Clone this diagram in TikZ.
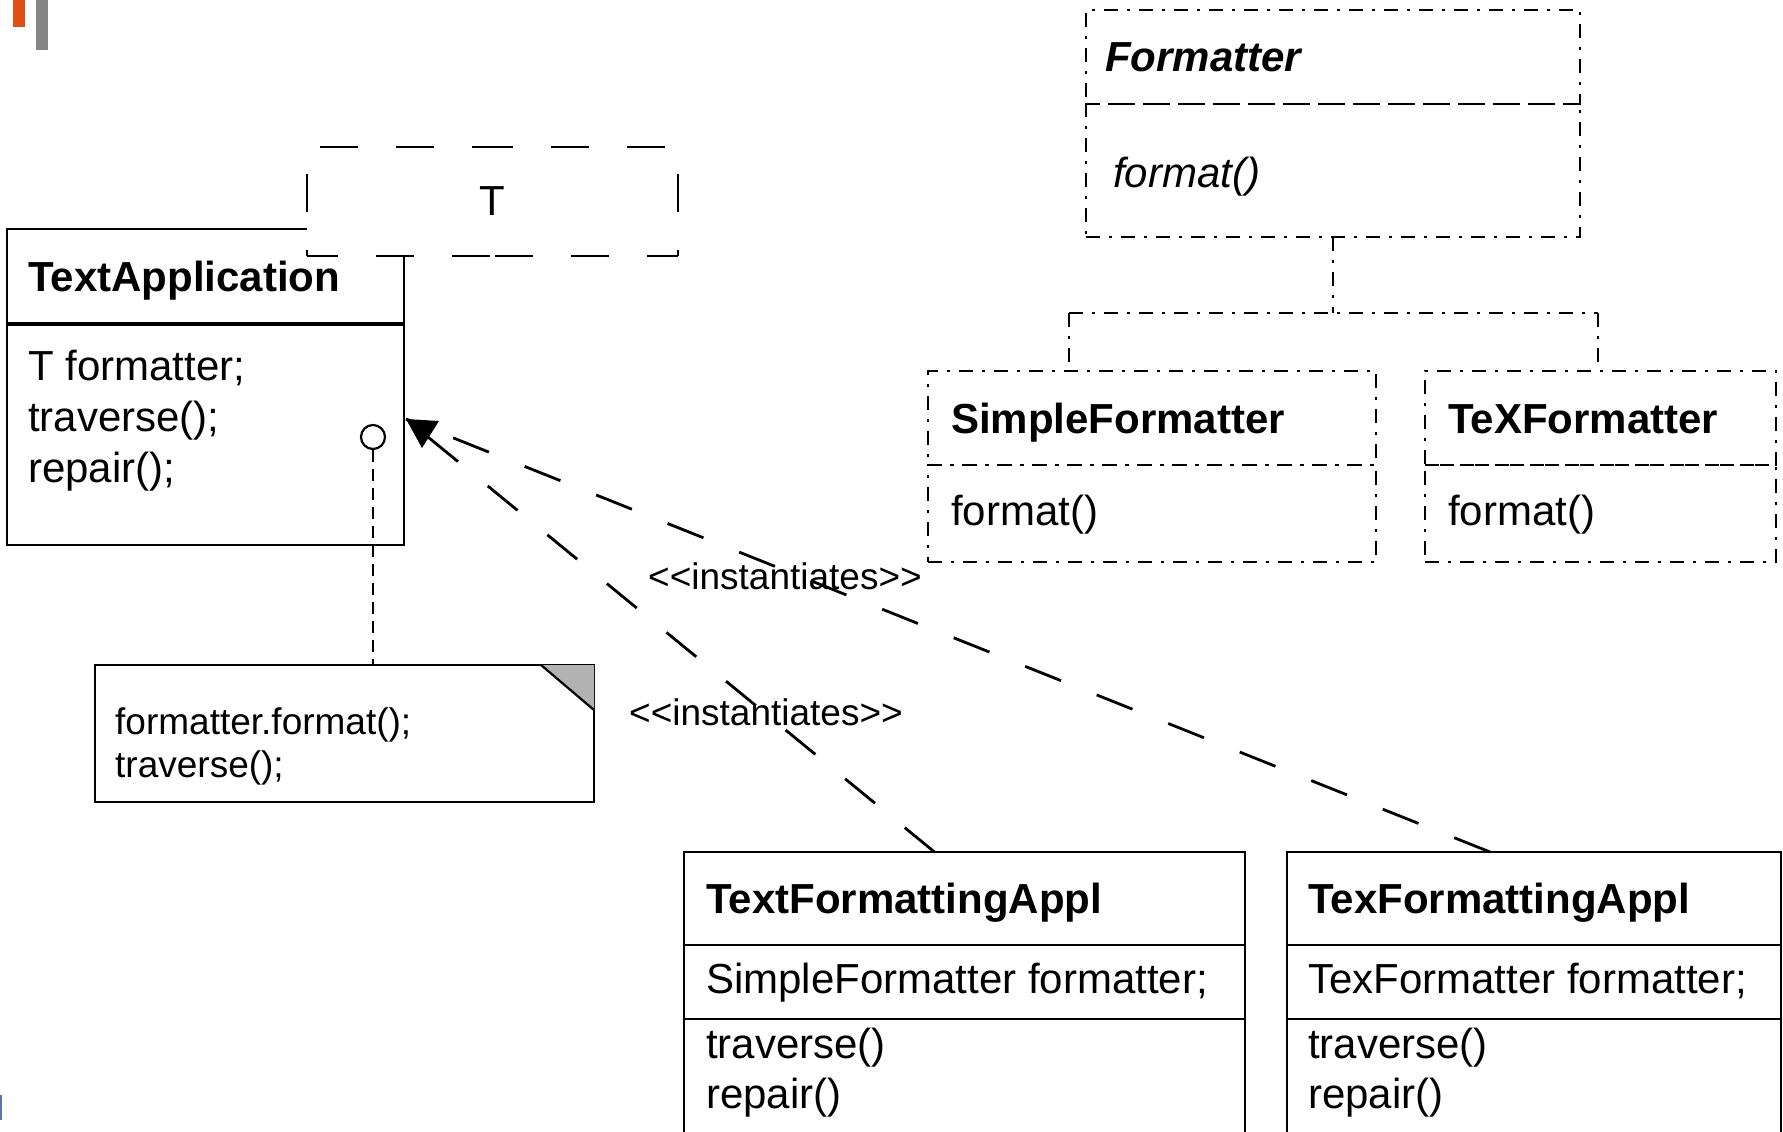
\documentclass[tikz,border=0pt]{standalone}
\usepackage{fontspec}
\setmainfont{Liberation Sans}
\usetikzlibrary{positioning}
\definecolor{slideorange}{RGB}{224,78,20}
\definecolor{slidegray}{RGB}{133,133,133}
\definecolor{slideblue}{RGB}{90,115,170}
\definecolor{foldgray}{RGB}{178,178,178}

\begin{document}
\begin{tikzpicture}[x=1pt,y=-1pt,
    box/.style={draw, rectangle, line width=2.5pt, inner sep=0pt, outer sep=0pt, anchor=north west},
    dashdot/.style={line width=2.4pt, dash pattern=on 14pt off 9pt on 3pt off 9pt},
    longdash/.style={line width=2.8pt, dash pattern=on 38.5pt off 38.5pt},
    tdash/.style={line width=2.8pt, dash pattern=on 38pt off 38pt},
    txt/.style={anchor=base west, inner sep=0pt, font=\fontsize{42}{50}\selectfont},
    small/.style={anchor=base west, inner sep=0pt, font=\fontsize{37}{44}\selectfont}]

        \useasboundingbox (0,0) rectangle (1783,1132);

        % slide marks
        \fill[slideorange] (13,0) rectangle (25,27);
        \fill[slidegray] (36,0) rectangle (48,50);
        \fill[slideblue] (0,1095) rectangle (2,1120);

        \begin{scope}[every node/.style={box}]
          \node[minimum width=397pt, minimum height=95pt]  (app-head)   at (7,229)    {};
          \node[minimum width=397pt, minimum height=221pt, below=0pt of app-head] (app-body) {};
          \node[draw=none, fill=white, minimum width=371pt, minimum height=109pt]
                                                           (param)      at (307,147)  {\fontsize{42}{50}\selectfont T};

          \node[dashdot, minimum width=494pt, minimum height=94pt]  (fmt-head) at (1086,10) {};
          \node[dashdot, minimum width=494pt, minimum height=133pt, below=0pt of fmt-head] (fmt-body) {};
          \node[dashdot, minimum width=448pt, minimum height=94pt]  (simple-head) at (928,371) {};
          \node[dashdot, minimum width=448pt, minimum height=97pt, below=0pt of simple-head] (simple-body) {};
          \node[dashdot, minimum width=351pt, minimum height=94pt]  (texf-head) at (1425,371) {};
          \node[dashdot, minimum width=351pt, minimum height=97pt, below=0pt of texf-head] (texf-body) {};

          \node[minimum width=561pt, minimum height=93pt]  (tfa-head)  at (684,852)  {};
          \node[minimum width=561pt, minimum height=74pt, below=0pt of tfa-head]  (tfa-attr) {};
          \node[minimum width=561pt, minimum height=125pt, below=0pt of tfa-attr] (tfa-ops)  {};
          \node[minimum width=494pt, minimum height=93pt]  (texa-head) at (1287,852) {};
          \node[minimum width=494pt, minimum height=74pt, below=0pt of texa-head] (texa-attr) {};
          \node[minimum width=494pt, minimum height=125pt, below=0pt of texa-attr] (texa-ops) {};

          \node[minimum width=499pt, minimum height=137pt] (note) at (95,665) {};
        \end{scope}

        % heavier rule under the class name
        \draw[line width=3.6pt] (app-head.south west) -- (app-head.south east);

        % template box, dashes run in from each corner
        \draw[tdash, dash phase=63pt] (param.north west) -- (param.north);
        \draw[tdash, dash phase=63pt] (param.north east) -- (param.north);
        \draw[tdash, dash phase=7pt]  (param.south west) -- (param.south);
        \draw[tdash, dash phase=7pt]  (param.south east) -- (param.south);
        \draw[tdash, dash phase=49pt] (param.north west) -- (param.west);
        \draw[tdash, dash phase=32pt] (param.south west) -- (param.west);
        \draw[tdash, dash phase=49pt] (param.north east) -- (param.east);
        \draw[tdash, dash phase=32pt] (param.south east) -- (param.east);

        % folded corner of the note
        \fill[foldgray] ([xshift=-53pt]note.north east) -- (note.north east) -- ([yshift=-45pt]note.north east) -- cycle;
        \draw[line width=2.2pt] ([xshift=-53pt]note.north east) -- ([yshift=-45pt]note.north east);

        \begin{scope}[every node/.style={txt}]
          \node (app-name)   at (28,291)  {\bfseries TextApplication};
          \node (app-a1)     at (28,380)  {T formatter;};
          \node (app-a2)     at (28,431)  {traverse();};
          \node (app-a3)     at (28,482)  {repair();};

          \node (fmt-name)   at (1105,72)  {\bfseries\itshape Formatter};
          \node (fmt-op)     at (1113,187) {\itshape format()};
          \node (simple-name) at (951,433) {\bfseries SimpleFormatter};
          \node (simple-op)  at (951,525)  {format()};
          \node (texf-name)  at (1448,433) {\bfseries TeXFormatter};
          \node (texf-op)    at (1448,525) {format()};

          \node (tfa-name)   at (706,913)  {\bfseries TextFormattingAppl};
          \node (tfa-a1)     at (706,993)  {SimpleFormatter formatter;};
          \node (tfa-o1)     at (706,1058) {traverse()};
          \node (tfa-o2)     at (706,1108) {repair()};
          \node (texa-name)  at (1308,913) {\bfseries TexFormattingAppl};
          \node (texa-a1)    at (1308,993) {TexFormatter formatter;};
          \node (texa-o1)    at (1308,1058) {traverse()};
          \node (texa-o2)    at (1308,1108) {repair()};
        \end{scope}

        \begin{scope}[every node/.style={small}]
          \node (note-1)  at (115,734) {formatter.format();};
          \node (note-2)  at (115,777) {traverse();};
          \node (inst-1)  at (648,589) {<\kern0pt<instantiates>\kern0pt>};
          \node (inst-2)  at (629,725) {<\kern0pt<instantiates>\kern0pt>};
        \end{scope}

        % note link
        \node[circle, draw, line width=2.2pt, minimum size=24pt, inner sep=0pt] (lolly) at (373,437) {};
        \draw[line width=2.2pt, dash pattern=on 12pt off 7pt] (lolly.south) -- (lolly.south |- note.north);

        % generalisation
        \coordinate (bar-left)  at (1069,313);
        \coordinate (bar-right) at (1598,313);
        \draw[dashdot] (fmt-body.south) -- (fmt-body.south |- bar-left);
        \draw[dashdot] (bar-left) -- (bar-right);
        \draw[dashdot] (bar-left) -- (bar-left |- simple-head.north);
        \draw[dashdot] (bar-right) -- (bar-right |- texf-head.north);

        % instantiation
        \coordinate (tip) at (406,419);
        \draw[longdash] ([xshift=-30pt]tfa-head.north) -- (tip);
        \draw[longdash] ([xshift=-44pt]texa-head.north) -- (tip);
        \fill (tip) -- ++(33,2) -- ++(-17,27) -- cycle;

      \end{tikzpicture}
\end{document}
